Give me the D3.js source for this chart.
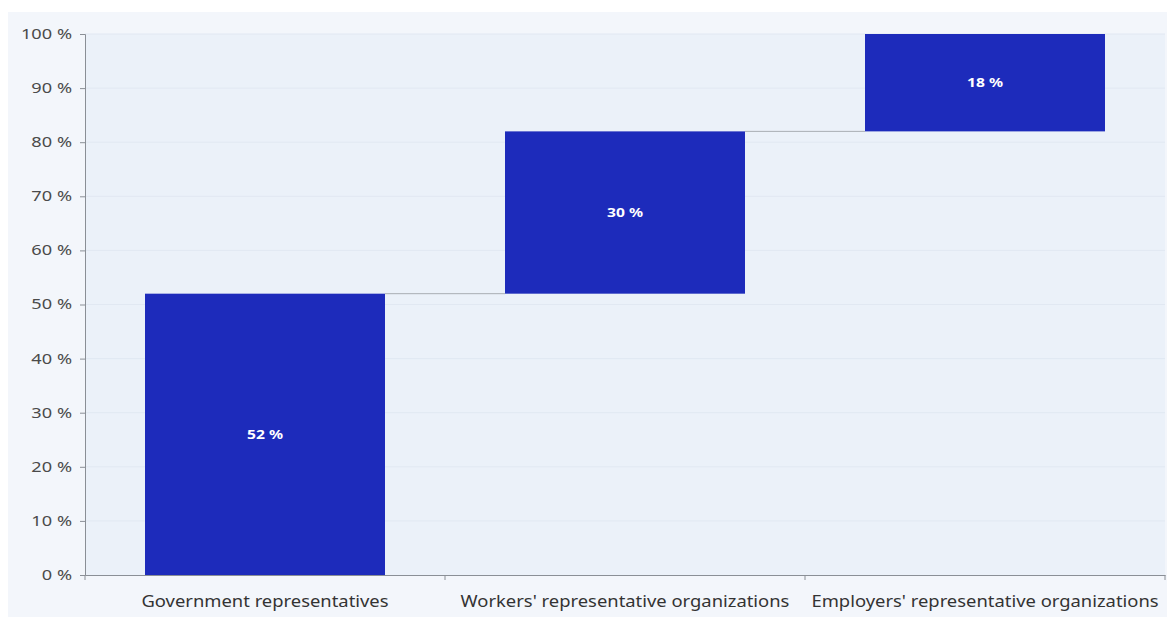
<!DOCTYPE html>
<html>
<head>
<meta charset="utf-8">
<script src="https://cdn.jsdelivr.net/npm/d3@7"></script>
<style>
  body { margin: 0; background: #ffffff; font-family: "Noto Sans", "Open Sans", sans-serif; }
  svg { display: block; }
</style>
</head>
<body>
<svg id="chart" width="1167" height="617"></svg>
<script>
const categories = ['Government representatives', "Workers' representative organizations", "Employers' representative organizations"];
const values = [52, 30, 18];
const y_ticks = [0, 10, 20, 30, 40, 50, 60, 70, 80, 90, 100];

const margin = { top: 34, right: 2, bottom: 42, left: 85 };
const width = 1167;
const height = 617;

const svg = d3.select('#chart');

// panel backgrounds
svg.append('rect')
  .attr('x', 8).attr('y', 12)
  .attr('width', width - 8).attr('height', height - 12)
  .attr('fill', '#f3f6fb');
svg.append('rect')
  .attr('x', margin.left).attr('y', margin.top)
  .attr('width', width - margin.left - margin.right)
  .attr('height', height - margin.top - margin.bottom)
  .attr('fill', '#ebf1f9');

// waterfall steps
let running = 0;
const steps = values.map((v, i) => {
  const s = { cat: categories[i], start: running, end: running + v, value: v };
  running += v;
  return s;
});

const xScale = d3.scaleBand()
  .domain(categories)
  .range([margin.left, width - margin.right])
  .paddingInner(1 / 3)
  .paddingOuter(1 / 6);

const yScale = d3.scaleLinear()
  .domain([0, 100])
  .range([height - margin.bottom, margin.top]);

// gridlines
svg.append('g')
  .selectAll('line')
  .data(y_ticks.slice(1))
  .enter()
  .append('line')
  .attr('x1', margin.left)
  .attr('x2', width - margin.right)
  .attr('y1', (d) => yScale(d))
  .attr('y2', (d) => yScale(d))
  .attr('stroke', '#e1e8f2')
  .attr('stroke-width', 1);

// connectors
svg.append('g')
  .selectAll('line')
  .data(steps.slice(0, -1))
  .enter()
  .append('line')
  .attr('x1', (d) => xScale(d.cat) + xScale.bandwidth())
  .attr('x2', (d, i) => xScale(steps[i + 1].cat))
  .attr('y1', (d) => yScale(d.end))
  .attr('y2', (d) => yScale(d.end))
  .attr('stroke', '#a9adb3')
  .attr('stroke-width', 1);

// bars
svg.append('g')
  .selectAll('rect')
  .data(steps)
  .enter()
  .append('rect')
  .attr('x', (d) => xScale(d.cat))
  .attr('y', (d) => yScale(d.end))
  .attr('width', xScale.bandwidth())
  .attr('height', (d) => yScale(d.start) - yScale(d.end))
  .attr('fill', '#1d2bbb');

// bar labels
svg.append('g')
  .selectAll('text')
  .data(steps)
  .enter()
  .append('text')
  .attr('transform', (d) =>
    'translate(' + (xScale(d.cat) + xScale.bandwidth() / 2) + ',' + yScale((d.start + d.end) / 2) + ') scale(1.2,1)')
  .attr('dy', '0.35em')
  .attr('text-anchor', 'middle')
  .attr('fill', '#ffffff')
  .attr('font-size', 13)
  .attr('font-weight', 'bold')
  .text((d) => d.value + ' %');

// y axis
const y_axis = d3.axisLeft(yScale)
  .tickValues(y_ticks)
  .tickSize(5)
  .tickPadding(0)
  .tickFormat((d) => d + ' %');

const gy = svg.append('g')
  .attr('transform', 'translate(' + margin.left + ',0)')
  .call(y_axis);
gy.select('.domain').attr('stroke', '#8a8f96');
gy.selectAll('.tick line').attr('stroke', '#8a8f96');
gy.selectAll('.tick text')
  .attr('x', null)
  .attr('transform', 'translate(-13,0) scale(1.3,1)')
  .attr('fill', '#4a4a4a')
  .attr('font-size', 14)
  .attr('font-family', '"Noto Sans", sans-serif');

// x axis
const x_axis = d3.axisBottom(xScale).tickSize(0).tickPadding(21);
const gx = svg.append('g')
  .attr('transform', 'translate(0,' + (height - margin.bottom) + ')')
  .call(x_axis);
gx.select('.domain').attr('stroke', '#8a8f96');
gx.selectAll('.tick text')
  .attr('transform', 'scale(1.15,1)')
  .attr('fill', '#333')
  .attr('font-size', 16)
  .attr('font-family', '"Noto Sans", sans-serif');

// band separators on x axis
const seps = [0, 1, 2, 3].map((i) => margin.left + i * (width - margin.left - margin.right) / categories.length);
gx.selectAll('.sep')
  .data(seps)
  .enter()
  .append('line')
  .attr('class', 'sep')
  .attr('x1', (d) => d).attr('x2', (d) => d)
  .attr('y1', 0).attr('y2', 5)
  .attr('stroke', '#8a8f96');
</script>
</body>
</html>
